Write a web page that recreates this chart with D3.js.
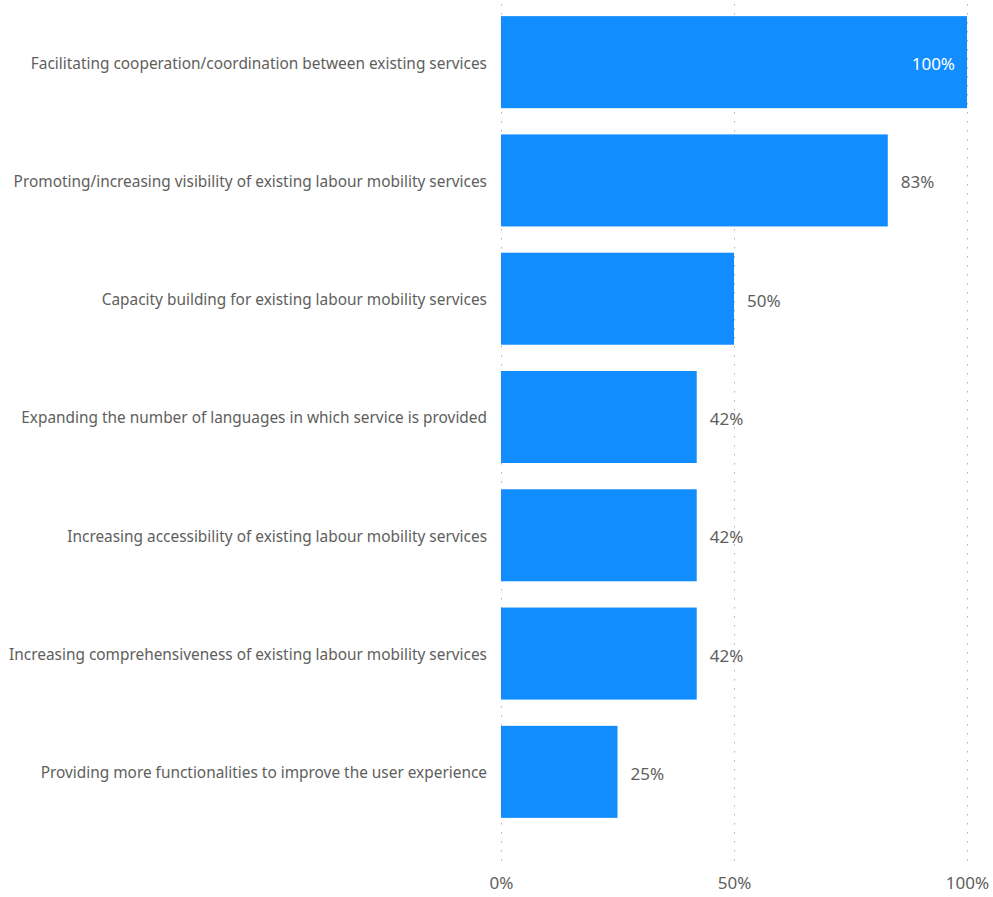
<!DOCTYPE html>
<html>
<head>
<meta charset="utf-8">
<script src="https://cdn.jsdelivr.net/npm/d3@7"></script>
<style>
  html, body { margin: 0; padding: 0; background: #ffffff; }
  svg text { font-family: "Noto Sans", "Open Sans", sans-serif; }
</style>
</head>
<body>
<svg id="chart" width="993" height="897"></svg>
<script>
// Share of respondents selecting each improvement
const categories = [
  "Facilitating cooperation/coordination between existing services",
  "Promoting/increasing visibility of existing labour mobility services",
  "Capacity building for existing labour mobility services",
  "Expanding the number of languages in which service is provided",
  "Increasing accessibility of existing labour mobility services",
  "Increasing comprehensiveness of existing labour mobility services",
  "Providing more functionalities to improve the user experience"
];
const values = [100, 83, 50, 42, 42, 42, 25];
const tickValues = [0, 50, 100];
const tickLabels = ["0%", "50%", "100%"];

const svg = d3.select("#chart");
const plotLeft = 501, plotRight = 967;
const plotTop = 3, plotBottom = 831;

const x = d3.scaleLinear().domain([0, 100]).range([plotLeft, plotRight]);
const y = d3.scaleBand().domain(categories).range([plotTop, plotBottom])
  .paddingInner(0.222).paddingOuter(0.111);

const textColor = "#605e5c";

// dotted vertical gridlines
svg.append("g").selectAll("line").data(tickValues).join("line")
  .attr("x1", d => x(d) + 0.5).attr("x2", d => x(d) + 0.5)
  .attr("y1", 4).attr("y2", 868)
  .attr("stroke", "#b3b0ad").attr("stroke-width", 1)
  .attr("stroke-dasharray", "1.5,7.5");

// bars
svg.append("g").selectAll("rect").data(categories).join("rect")
  .attr("x", x(0))
  .attr("y", d => y(d))
  .attr("width", (d, i) => x(values[i]) - x(0))
  .attr("height", y.bandwidth())
  .attr("fill", "#118dff");

// category labels
svg.append("g").selectAll("text").data(categories).join("text")
  .attr("x", 487)
  .attr("y", d => y(d) + y.bandwidth() / 2 + 1)
  .attr("dy", "0.35em")
  .attr("text-anchor", "end")
  .attr("font-size", 15.4)
  .attr("fill", textColor)
  .text(d => d);

// value labels: inside for a full bar, outside otherwise
svg.append("g").selectAll("text").data(categories).join("text")
  .each(function (d, i) {
    const inside = x(values[i]) > plotRight - 40;
    d3.select(this)
      .attr("x", inside ? x(values[i]) - 12 : x(values[i]) + 13)
      .attr("text-anchor", inside ? "end" : "start")
      .attr("fill", inside ? "#ffffff" : textColor);
  })
  .attr("y", d => y(d) + y.bandwidth() / 2 + 2)
  .attr("dy", "0.35em")
  .attr("font-size", 17)
  .text((d, i) => values[i] + "%");

// x axis tick labels
const axis = d3.axisBottom(x).tickValues(tickValues)
  .tickFormat((d, i) => tickLabels[i]).tickSize(0).tickPadding(0);
const gx = svg.append("g").attr("transform", "translate(0,877)").call(axis);
gx.select(".domain").remove();
gx.selectAll("text")
  .attr("font-size", 17)
  .attr("fill", textColor)
  .attr("font-family", "\"Noto Sans\", \"Open Sans\", sans-serif");
</script>
</body>
</html>
